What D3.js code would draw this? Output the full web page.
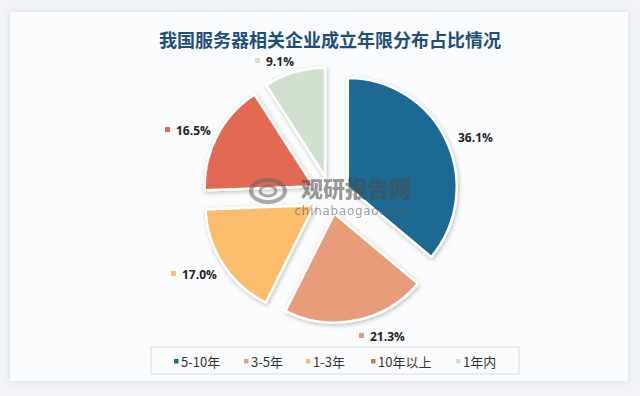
<!DOCTYPE html>
<html><head><meta charset="utf-8">
<script src="https://cdn.jsdelivr.net/npm/d3@7"></script>
<style>
html,body{margin:0;padding:0;background:#f2f4f7;}
svg{display:block;}
</style></head>
<body>
<svg id="chart" width="640" height="396"></svg>
<script>
const title = "我国服务器相关企业成立年限分布占比情况";
const categories = ["5-10年", "3-5年", "1-3年", "10年以上", "1年内"];
const values = [36.1, 21.3, 17.0, 16.5, 9.1];
const valueLabels = ["36.1%", "21.3%", "17.0%", "16.5%", "9.1%"];
const colors = ["#1d6a93", "#e89c79", "#fcbd6c", "#e26b54", "#d2e0d0"];

const svg = d3.select("#chart");
const defs = svg.append("defs");
const sh = defs.append("filter").attr("id","sh").attr("x","-20%").attr("y","-20%").attr("width","140%").attr("height","140%");
sh.append("feDropShadow").attr("dx",1).attr("dy",1.5).attr("stdDeviation",2).attr("flood-color","#000").attr("flood-opacity",0.25);
const cardSh = defs.append("filter").attr("id","csh").attr("x","-5%").attr("y","-5%").attr("width","110%").attr("height","110%");
cardSh.append("feDropShadow").attr("dx",0).attr("dy",0).attr("stdDeviation",3).attr("flood-color","#b8c0cc").attr("flood-opacity",0.5);

// card
svg.append("rect").attr("x",10).attr("y",12).attr("width",618).attr("height",369)
  .attr("fill","#fbfcfd").attr("filter","url(#csh)");

// title
svg.append("text").attr("x",330).attr("y",47).attr("text-anchor","middle")
  .attr("font-family","'Noto Sans CJK SC', sans-serif").attr("font-size",18).attr("font-weight",700)
  .attr("fill","#1e4f7b").text(title);

const cx = 330.5, cy = 195, r = 109, off = 19;
const pie = d3.pie().sort(null).value(d => d)(values);
const arc = d3.arc().innerRadius(0).outerRadius(r);
const g = svg.append("g").attr("transform", `translate(${cx},${cy})`);
g.selectAll("path").data(pie).join("path")
  .attr("d", arc)
  .attr("transform", d => {
    const a = (d.startAngle + d.endAngle) / 2;
    return `translate(${off*Math.sin(a)},${-off*Math.cos(a)})`;
  })
  .attr("fill", (d,i) => colors[i])
  .attr("stroke", "#ffffff").attr("stroke-width", 2.5).attr("stroke-linejoin","round")
  .attr("filter","url(#sh)");

// watermark
const wm = svg.append("g").attr("opacity",0.55);
wm.append("text").attr("x",356).attr("y",197).attr("text-anchor","middle")
  .attr("font-family","'Noto Sans CJK SC', sans-serif").attr("font-size",22).attr("font-weight",900)
  .attr("fill","#4a4a4a").text("观研报告网");
wm.append("text").attr("x",353).attr("y",215).attr("text-anchor","middle")
  .attr("font-family","'DejaVu Sans', sans-serif").attr("font-size",12)
  .attr("fill","#555").attr("letter-spacing",0.7).text("chinabaogao.com");
const lg = wm.append("g").attr("transform","translate(268,191)");
lg.append("ellipse").attr("rx",17).attr("ry",11).attr("fill","none").attr("stroke","#666").attr("stroke-width",4);
lg.append("ellipse").attr("rx",8).attr("ry",5).attr("fill","none").attr("stroke","#666").attr("stroke-width",3);

// value labels
const labelPos = [[458,142,false],[370,341,true],[182,279,true],[176,135,true],[266,66,true]];
labelPos.forEach((p,i) => {
  if (p[2]) svg.append("rect").attr("x",p[0]-11).attr("y",p[1]-8).attr("width",5).attr("height",5).attr("fill",colors[i]);
  svg.append("text").attr("x",p[0]).attr("y",p[1])
    .attr("font-family","'Open Sans', 'DejaVu Sans', sans-serif").attr("font-size",12).attr("font-weight",700)
    .attr("fill","#222").text(valueLabels[i]);
});

// legend
svg.append("rect").attr("x",151).attr("y",347).attr("width",368).attr("height",27)
  .attr("fill","#fbfcfd").attr("stroke","#d9dde2").attr("stroke-width",1);
const legX = [176, 246, 308, 373, 458];
categories.forEach((c,i) => {
  svg.append("rect").attr("x",legX[i]-2).attr("y",359).attr("width",4.5).attr("height",4.5).attr("fill",colors[i]);
  svg.append("text").attr("x",legX[i]+5).attr("y",366.5)
    .attr("font-family","'Noto Sans CJK SC', sans-serif").attr("font-size",13)
    .attr("fill","#333").text(c);
});
</script>
</body></html>
